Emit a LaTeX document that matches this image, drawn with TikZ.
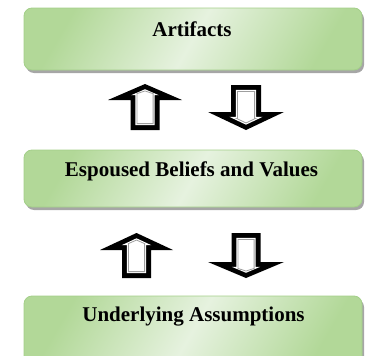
\documentclass[tikz,border=0pt]{standalone}
\usepackage{fontspec}
\setmainfont{Liberation Serif}
\usetikzlibrary{shadows}
\definecolor{gdark}{HTML}{B2D898}
\definecolor{glight}{HTML}{E6F2DF}
\definecolor{gedge}{HTML}{A3CF89}
\tikzset{
  box/.style={draw=gedge, line width=0.8pt, rounded corners=8pt,
    top color=gdark, bottom color=gdark, middle color=glight, shading angle=60,
    drop shadow={shadow xshift=2pt, shadow yshift=-3pt, fill=black, opacity=0.35}},
  lbl/.style={font=\bfseries\fontsize{21}{25}\selectfont, inner sep=0pt, anchor=center},
  arrouter/.style={fill=black},
  arrwhite/.style={fill=white},
  arrgray/.style={draw=gray!75, line width=0.8pt, fill=white},
}
\newcommand\ArrShape[4]{%
  \foreach \dd/\ss in {0/arrouter,4.8/arrwhite,6.4/arrgray}{%
    \pgfmathsetmacro\kk{sqrt(1+(#2/#3)^2)}%
    \pgfmathsetmacro\ta{-#1+\kk*\dd}%
    \pgfmathsetmacro\hb{-#1+#2-\dd}%
    \pgfmathsetmacro\wx{max(#4-\dd,(#2-\dd-\kk*\dd)*#3/#2)}%
    \pgfmathsetmacro\sx{#4-\dd}%
    \pgfmathsetmacro\bt{#1-\dd}%
    \path[\ss] (-\sx,\bt) -- (-\sx,\hb) -- (-\wx,\hb) -- (0,\ta) -- (\wx,\hb) -- (\sx,\hb) -- (\sx,\bt) -- cycle;
  }}
\begin{document}
\begin{tikzpicture}[x=1pt,y=-1pt]
\useasboundingbox (0,0) rectangle (367,356);
\clip (0,0) rectangle (367,356);
\node[box, minimum width=338pt, minimum height=62pt] (b1) at (193,39) {};
\node[box, minimum width=338pt, minimum height=57pt] (b2) at (193,178.5) {};
\node[box, minimum width=338pt, minimum height=68pt] (b3) at (193,330) {};
\node[lbl] (t1) at (192,29) {Artifacts};
\node[lbl] (t2) at (191.5,171) {Espoused Beliefs and Values};
\node[lbl] (t3) at (193.5,317) {Underlying Assumptions};
% arrows
\begin{scope}[shift={(145,107)}] \ArrShape{23}{16}{37}{14.5} \end{scope}
\begin{scope}[shift={(246,107.5)}, yscale=-1] \ArrShape{22.5}{18}{38}{15} \end{scope}
\begin{scope}[shift={(136.5,255.5)}] \ArrShape{22.5}{17}{36.5}{14.5} \end{scope}
\begin{scope}[shift={(246,255.5)}, yscale=-1] \ArrShape{22.5}{16}{38}{14.5} \end{scope}
\end{tikzpicture}
\end{document}
